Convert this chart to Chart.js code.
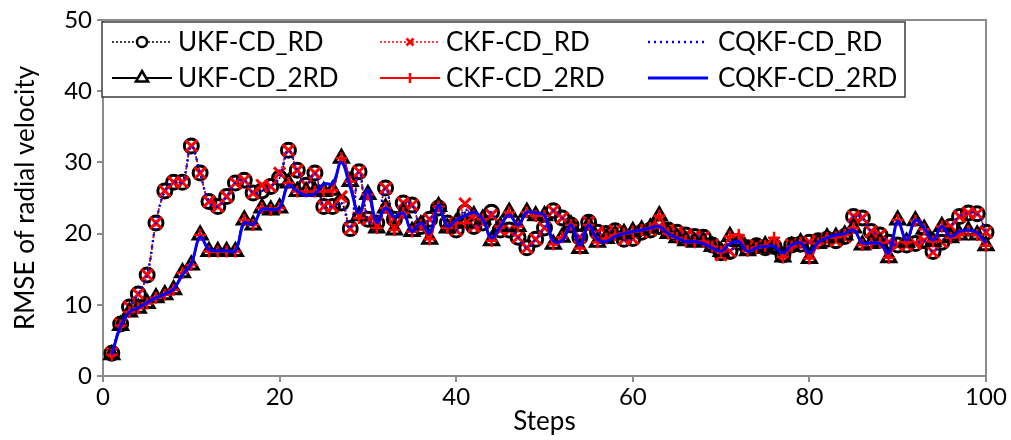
<!DOCTYPE html>
<html>
<head>
<meta charset="utf-8">
<script src="https://cdn.jsdelivr.net/npm/chart.js@4.4.1/dist/chart.umd.min.js"></script>
<style>
  body { margin: 0; background: #fff; }
  #wrap { width: 1011px; height: 440px; }
</style>
</head>
<body>
<div id="wrap"><canvas id="rmseChart" width="1011" height="440"></canvas></div>
<script>
// steps 1..100 on the x axis
const steps = Array.from({ length: 100 }, (_, i) => i + 1);

const ukfRD = [
  3.2, 7.3, 9.7, 11.5, 14.2, 21.5, 26.0, 27.2, 27.2, 32.3,
  28.5, 24.5, 23.8, 25.2, 27.1, 27.5, 25.7, 26.0, 26.6, 27.8,
  31.7, 28.9, 26.8, 28.5, 23.8, 23.8, 24.3, 20.7, 28.7, 22.0,
  21.5, 26.4, 22.0, 24.3, 24.0, 21.0, 22.0, 23.6, 21.5, 20.5,
  23.0, 21.0, 21.5, 23.0, 20.5, 20.5, 19.5, 18.0, 19.2, 20.8,
  23.2, 22.2, 21.2, 19.5, 21.6, 20.2, 20.0, 20.4, 19.2, 19.3,
  20.2, 20.5, 21.0, 20.5, 20.2, 19.8, 19.6, 19.5, 18.4, 17.3,
  17.5, 18.8, 18.0, 18.3, 18.0, 18.2, 17.0, 18.4, 18.5, 18.8,
  19.0, 19.2, 19.0, 19.6, 22.4, 22.2, 20.3, 19.8, 18.8, 18.4,
  18.4, 18.6, 19.0, 17.5, 18.8, 21.0, 22.4, 22.9, 22.8, 20.2
];
const ckfRD = [
  3.2, 7.3, 9.7, 11.5, 14.2, 21.5, 26.0, 27.2, 27.2, 32.3,
  28.5, 24.5, 23.8, 25.2, 27.1, 27.5, 25.7, 26.8, 26.6, 28.5,
  31.7, 28.9, 26.8, 28.5, 23.8, 23.8, 25.2, 20.7, 28.7, 22.0,
  21.5, 26.4, 22.0, 24.3, 24.0, 21.0, 22.0, 23.6, 21.5, 20.5,
  24.2, 21.0, 21.5, 22.6, 20.5, 20.5, 19.5, 18.0, 19.2, 20.8,
  23.2, 22.2, 21.2, 19.5, 21.6, 20.2, 20.0, 20.4, 19.2, 19.3,
  20.2, 20.5, 21.0, 20.5, 20.2, 19.8, 19.6, 19.5, 18.4, 17.0,
  17.5, 18.8, 18.0, 18.3, 18.0, 18.2, 17.0, 18.4, 18.5, 18.8,
  19.0, 19.2, 19.0, 19.6, 22.4, 22.2, 20.3, 19.8, 18.8, 18.4,
  18.4, 18.6, 19.0, 17.4, 18.8, 21.0, 22.4, 22.9, 22.8, 20.2
];
const cqkfRD = [
  3.2, 7.3, 9.7, 11.5, 14.2, 21.5, 26.0, 27.2, 27.2, 32.3,
  28.5, 24.5, 23.8, 25.2, 27.1, 27.5, 25.7, 26.0, 26.6, 28.0,
  31.7, 28.9, 26.8, 28.5, 23.8, 23.8, 24.3, 20.7, 28.7, 22.0,
  21.5, 26.4, 22.0, 24.3, 24.0, 21.0, 22.0, 23.6, 21.5, 20.5,
  23.4, 21.0, 21.5, 23.0, 20.5, 20.5, 19.5, 18.0, 19.2, 20.8,
  23.2, 22.2, 21.2, 19.5, 21.6, 20.2, 20.0, 20.4, 19.2, 19.3,
  20.2, 20.5, 21.0, 20.5, 20.2, 19.8, 19.6, 19.5, 18.4, 17.3,
  17.5, 18.8, 18.0, 18.3, 18.0, 18.2, 17.0, 18.4, 18.5, 18.8,
  19.0, 19.2, 19.0, 19.6, 22.4, 22.2, 20.3, 19.8, 18.8, 18.4,
  18.4, 18.6, 19.0, 17.5, 18.8, 21.0, 22.4, 22.9, 22.8, 20.2
];
const ukf2RD = [
  3.0, 7.1, 9.0, 9.5, 10.2, 11.0, 11.4, 12.1, 14.5, 15.6,
  19.8, 17.5, 17.5, 17.5, 17.5, 21.9, 21.2, 23.6, 23.3, 23.6,
  27.1, 25.9, 25.9, 25.9, 25.9, 26.1, 30.6, 27.3, 22.5, 25.5,
  20.8, 23.6, 20.5, 22.9, 20.3, 21.2, 19.2, 23.8, 20.8, 21.5,
  21.5, 22.5, 22.0, 19.0, 21.0, 23.0, 21.0, 23.0, 22.5, 22.5,
  18.5, 19.5, 21.2, 17.9, 21.2, 18.8, 19.3, 19.8, 20.0, 20.3,
  20.5, 20.8, 22.5, 20.0, 19.4, 19.0, 18.8, 18.9, 18.2, 17.5,
  19.6, 18.9, 17.6, 18.0, 18.3, 18.0, 16.7, 18.2, 18.7, 16.5,
  18.6, 19.4, 19.5, 19.8, 20.8, 18.4, 18.6, 18.7, 16.6, 21.9,
  18.8, 21.8, 20.6, 18.9, 21.0, 19.4, 19.8, 20.4, 19.8, 18.3
];
const ckf2RD = [
  3.0, 7.1, 9.0, 9.5, 10.2, 11.0, 11.4, 12.1, 14.5, 15.6,
  19.8, 17.5, 17.5, 17.5, 17.5, 21.9, 21.2, 23.6, 23.3, 23.6,
  27.1, 25.9, 25.9, 25.9, 25.9, 26.1, 30.6, 27.3, 22.2, 25.5,
  20.8, 23.6, 20.5, 22.9, 20.3, 21.2, 19.2, 23.8, 20.8, 21.5,
  21.5, 22.5, 22.0, 19.0, 21.0, 23.0, 21.0, 23.0, 22.5, 22.5,
  18.5, 19.5, 21.2, 17.9, 21.2, 18.8, 19.3, 19.8, 20.0, 20.3,
  20.5, 20.8, 22.5, 20.0, 19.4, 19.0, 18.8, 18.9, 18.2, 17.5,
  19.6, 19.8, 17.6, 18.0, 18.3, 19.4, 16.7, 18.2, 18.7, 16.5,
  18.6, 19.4, 19.5, 19.8, 20.8, 18.4, 18.6, 18.7, 16.6, 21.9,
  18.8, 21.8, 20.6, 18.9, 21.0, 19.4, 19.8, 20.4, 19.8, 18.3
];
const cqkf2RD = [
  3.0, 7.0, 9.0, 9.6, 10.3, 11.0, 11.5, 12.2, 14.2, 15.8,
  19.5, 17.8, 17.6, 17.6, 17.6, 21.5, 21.3, 23.4, 23.4, 23.6,
  26.8, 26.0, 25.4, 25.6, 27.0, 27.0, 30.0, 26.5, 22.9, 26.1,
  21.6, 23.6, 22.4, 22.9, 20.3, 21.5, 20.1, 24.0, 21.0, 21.9,
  22.5, 23.0, 22.0, 19.4, 21.0, 22.6, 21.2, 23.0, 22.9, 22.6,
  19.0, 19.0, 21.2, 18.4, 21.2, 19.2, 18.9, 19.6, 20.0, 20.3,
  20.5, 20.8, 21.0, 20.0, 19.4, 18.9, 18.9, 18.6, 18.0, 17.5,
  18.6, 18.9, 17.5, 18.0, 18.2, 18.2, 17.3, 18.4, 18.7, 17.3,
  18.8, 19.4, 19.8, 20.0, 20.5, 18.7, 18.7, 18.6, 17.3, 21.7,
  19.1, 21.9, 20.8, 19.1, 21.0, 19.6, 20.3, 20.5, 20.1, 18.7
];

const seriesNames = ['UKF-CD_RD', 'CKF-CD_RD', 'CQKF-CD_RD', 'UKF-CD_2RD', 'CKF-CD_2RD', 'CQKF-CD_2RD'];
const xTicks = [0, 20, 40, 60, 80, 100];
const yTicks = [0, 10, 20, 30, 40, 50];

const FONT = 'Lato, "Open Sans", sans-serif';
const axisGray = '#8c8c8c';

function pts(values) {
  return values.map((v, i) => ({ x: steps[i], y: v }));
}

function line(name, values, color, opts) {
  return Object.assign({
    label: name,
    data: pts(values),
    borderColor: color,
    pointBorderColor: color,
    pointBackgroundColor: 'rgba(0,0,0,0)',
    backgroundColor: color,
    fill: false,
    tension: 0.4,
    clip: false
  }, opts);
}

const datasets = [
  line(seriesNames[0], ukfRD, '#000000', { borderWidth: 1.5, borderDash: [2, 2], pointStyle: 'circle', pointRadius: 7, pointBorderWidth: 3, order: 5 }),
  line(seriesNames[1], ckfRD, '#ff0000', { borderWidth: 1.5, borderDash: [2, 2], pointStyle: 'crossRot', pointRadius: 8, pointBorderWidth: 3, order: 4 }),
  line(seriesNames[2], cqkfRD, '#0000ff', { borderWidth: 2.5, borderDash: [2, 4], pointRadius: 0, order: 3 }),
  line(seriesNames[3], ukf2RD, '#000000', { borderWidth: 2, pointStyle: 'triangle', pointRadius: 8, pointBorderWidth: 3, order: 2 }),
  line(seriesNames[4], ckf2RD, '#ff0000', { borderWidth: 2, pointStyle: 'cross', pointRadius: 6, pointBorderWidth: 2.5, order: 1 }),
  line(seriesNames[5], cqkf2RD, '#0000ff', { borderWidth: 3, pointRadius: 0, order: 0 })
];

function drawMarker(ctx, style, x, y, r, color, lw) {
  ctx.save();
  ctx.setLineDash([]);
  ctx.strokeStyle = color;
  ctx.lineWidth = lw;
  ctx.beginPath();
  if (style === 'circle') {
    ctx.fillStyle = '#fff';
    ctx.arc(x, y, r, 0, Math.PI * 2);
    ctx.fill();
  } else if (style === 'triangle') {
    ctx.fillStyle = '#fff';
    ctx.moveTo(x, y - r);
    ctx.lineTo(x + r * 0.87, y + r * 0.5);
    ctx.lineTo(x - r * 0.87, y + r * 0.5);
    ctx.closePath();
    ctx.fill();
  } else if (style === 'crossRot') {
    const d = r * 0.7;
    ctx.moveTo(x - d, y - d); ctx.lineTo(x + d, y + d);
    ctx.moveTo(x + d, y - d); ctx.lineTo(x - d, y + d);
  } else if (style === 'cross') {
    ctx.moveTo(x, y - r); ctx.lineTo(x, y + r);
  }
  ctx.stroke();
  ctx.restore();
}

// boxed 3 x 2 legend and the top/right frame of the plot area
const frameAndLegend = {
  id: 'frameAndLegend',
  beforeDatasetsDraw(chart) {
    const { ctx, chartArea: a } = chart;
    ctx.save();
    ctx.strokeStyle = axisGray;
    ctx.lineWidth = 2;
    ctx.beginPath();
    ctx.moveTo(a.left, a.top);
    ctx.lineTo(a.right, a.top);
    ctx.lineTo(a.right, a.bottom);
    ctx.stroke();
    ctx.restore();
  },
  afterDraw(chart) {
    const ctx = chart.ctx;
    ctx.save();
    ctx.fillStyle = '#fff';
    ctx.fillRect(102, 22, 803, 75);
    ctx.strokeStyle = '#3c3c3c';
    ctx.lineWidth = 1.5;
    ctx.strokeRect(102, 22, 803, 75);
    const colX = [112, 380, 648];
    const rowY = [42, 78];
    datasets.forEach((ds, i) => {
      const x0 = colX[i % 3];
      const y = rowY[Math.floor(i / 3)];
      ctx.save();
      ctx.strokeStyle = ds.borderColor;
      ctx.lineWidth = ds.borderWidth;
      ctx.setLineDash(ds.borderDash || []);
      ctx.beginPath();
      ctx.moveTo(x0, y);
      ctx.lineTo(x0 + 60, y);
      ctx.stroke();
      ctx.restore();
      if (ds.pointRadius > 0) {
        drawMarker(ctx, ds.pointStyle, x0 + 30, y, ds.pointStyle === 'triangle' ? 7 : 5, ds.borderColor, 2.5);
      }
      ctx.fillStyle = '#000';
      ctx.font = '26px ' + FONT;
      ctx.textBaseline = 'middle';
      ctx.textAlign = 'left';
      ctx.fillText(ds.label, x0 + (i % 3 === 2 ? 70 : 66), y + 1);
    });
    ctx.restore();
  }
};

new Chart(document.getElementById('rmseChart'), {
  type: 'line',
  data: { datasets: datasets },
  options: {
    responsive: false,
    animation: false,
    layout: { padding: { top: 20, right: 25, left: 0, bottom: 0 } },
    plugins: {
      legend: { display: false },
      tooltip: { enabled: false }
    },
    scales: {
      x: {
        type: 'linear',
        min: 0,
        max: 100,
        afterFit: (s) => { s.height = 64; },
        afterBuildTicks: (s) => { s.ticks = xTicks.map(v => ({ value: v })); },
        grid: { drawOnChartArea: false, drawTicks: true, tickLength: 6, color: axisGray, lineWidth: 2 },
        border: { display: true, color: axisGray, width: 2 },
        ticks: { color: '#000', padding: 1, maxRotation: 0, font: { family: FONT, size: 24 } },
        title: { display: true, text: 'Steps', color: '#000', padding: { top: 0, bottom: 3 }, font: { family: FONT, size: 26 } }
      },
      y: {
        min: 0,
        max: 50,
        afterFit: (s) => { s.width = 103; },
        afterBuildTicks: (s) => { s.ticks = yTicks.map(v => ({ value: v })); },
        grid: { drawOnChartArea: false, drawTicks: true, tickLength: 6, color: axisGray, lineWidth: 2 },
        border: { display: true, color: axisGray, width: 2 },
        ticks: { color: '#000', padding: 5, font: { family: FONT, size: 24 } },
        title: { display: true, text: 'RMSE of radial velocity', color: '#000', padding: { top: 10, bottom: 0 }, font: { family: FONT, size: 26 } }
      }
    }
  },
  plugins: [frameAndLegend]
});
</script>
</body>
</html>
